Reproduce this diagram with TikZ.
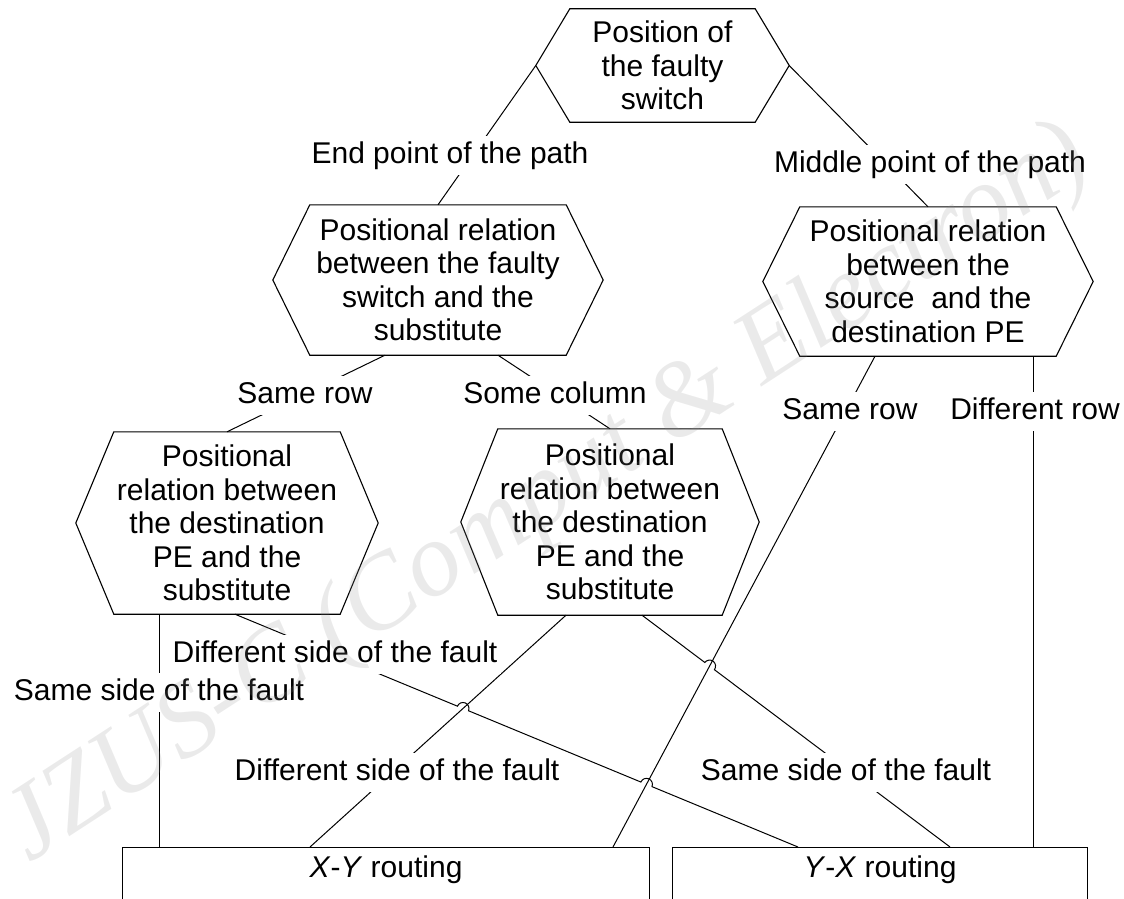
\documentclass[tikz,border=0pt]{standalone}
\usepackage{fontspec}
\setmainfont{Liberation Sans}
\newfontfamily\wmfont{Liberation Serif}
\usetikzlibrary{calc,intersections}
\newcommand\hexshape[2]{%
  \draw[hexline] (#1.west) -- ([xshift=#2]#1.north west) -- ([xshift=-#2]#1.north east)
    -- (#1.east) -- ([xshift=-#2]#1.south east) -- ([xshift=#2]#1.south west) -- cycle;}
\begin{document}
\begin{tikzpicture}[x=1pt,y=-1pt,
  txt/.style={font=\fontsize{30}{33.5}\selectfont},
  hexnode/.style={txt, align=center, inner sep=0pt},
  lbl/.style={txt, fill=white, inner xsep=4pt, inner ysep=5pt, text height=22pt, text depth=7pt, anchor=base},
  conn/.style={line width=1pt},
  hexline/.style={line width=1.1pt},
  routebox/.style={txt, draw, line width=1.1pt, anchor=north west, inner ysep=0pt, text height=30pt, text depth=80pt}]
\useasboundingbox (0,0) rectangle (1124,899);

% decision hexagons
\node[hexnode, minimum width=253pt, minimum height=113pt] (h1) at (662.5,65.5) {Position of\\the faulty\\switch};
\node[hexnode, minimum width=330pt, minimum height=150pt] (h2) at (438,280) {Positional relation\\between the faulty\\switch and the\\substitute};
\node[hexnode, minimum width=330pt, minimum height=149pt] (h3) at (928,281.5) {Positional relation\\between the\\source~ and the\\destination PE};
\node[hexnode, minimum width=302pt, minimum height=182pt] (h4) at (227,523) {Positional\\relation between\\the destination\\PE and the\\substitute};
\node[hexnode, minimum width=298pt, minimum height=186pt] (h5) at (610,522) {Positional\\relation between\\the destination\\PE and the\\substitute};
\hexshape{h1}{34pt}
\hexshape{h2}{37pt}
\hexshape{h3}{37pt}
\hexshape{h4}{38pt}
\hexshape{h5}{37pt}

% result boxes (open at the bottom edge of the picture)
\node[routebox, minimum width=527pt] (xy) at (122,847) {\textit{X}-\textit{Y} routing};
\node[routebox, minimum width=415pt] (yx) at (672,847) {\textit{Y}-\textit{X} routing};

% connector end points on the shapes
\coordinate (h2b1) at ([xshift=-53pt]h2.south);
\coordinate (h2b2) at ([xshift=60pt]h2.south);
\coordinate (h3b1) at ([xshift=-53pt]h3.south);
\coordinate (h3b2) at ([xshift=105pt]h3.south);
\coordinate (h4b1) at ([xshift=-68pt]h4.south);
\coordinate (h4b2) at ([xshift=8pt]h4.south);
\coordinate (h5b1) at ([xshift=-44pt]h5.south);
\coordinate (h5b2) at ([xshift=32pt]h5.south);
\coordinate (xy1) at (h4b1 |- xy.north);
\coordinate (xy2) at ([xshift=188pt]xy.north west);
\coordinate (xy3) at ([xshift=491pt]xy.north west);
\coordinate (yx1) at ([xshift=126pt]yx.north west);
\coordinate (yx2) at ([xshift=278pt]yx.north west);
\coordinate (yx3) at (h3b2 |- yx.north);

% connectors
\draw[conn] (h1.west) -- (h2.north);
\draw[conn] (h1.east) -- (h3.north);
\draw[conn] (h2b1) -- (h4.north);
\draw[conn] (h2b2) -- (h5.north);
\draw[conn] (h3b2) -- (yx3);
\draw[conn] (h4b1) -- (xy1);
\draw[conn, name path=pB] (h5b1) -- (xy2);
\draw[conn, name path=pC] (h3b1) -- (xy3);
\path[name path=pA] (h4b2) -- (yx1);
\path[name path=pD] (h5b2) -- (yx2);
\path[name intersections={of=pA and pB, by=x1}];
\path[name intersections={of=pA and pC, by=x2}];
\path[name intersections={of=pD and pC, by=x3}];
\draw[conn] let \p1=($(yx1)-(h4b2)$), \n1={atan2(\y1,\x1)} in
  (h4b2) -- ($(x1)!6pt!(h4b2)$) arc[start angle=\n1+180, end angle=\n1, radius=6pt]
  -- ($(x2)!6pt!(h4b2)$) arc[start angle=\n1+180, end angle=\n1, radius=6pt] -- (yx1);
\draw[conn] let \p1=($(yx2)-(h5b2)$), \n1={atan2(\y1,\x1)} in
  (h5b2) -- ($(x3)!6pt!(h5b2)$) arc[start angle=\n1+180, end angle=\n1, radius=6pt] -- (yx2);

% branch labels
\node[lbl] (l1) at (450,163) {End point of the path};
\node[lbl] (l2) at (930,172) {Middle point of the path};
\node[lbl] (l3) at (305,403) {Same row};
\node[lbl] (l4) at (555,403) {Some column};
\node[lbl] (l5) at (850,419) {Same row};
\node[lbl] (l6) at (1035,419) {Different row};
\node[lbl] (l7) at (159,700) {Same side of the fault};
\node[lbl] (l8) at (335,662) {Different side of the fault};
\node[lbl] (l9) at (397,780) {Different side of the fault};
\node[lbl] (l10) at (846,780) {Same side of the fault};

% watermark
\node[font=\wmfont\itshape\fontsize{106}{106}\selectfont, text=black!45, text opacity=0.18, rotate=33, anchor=base] (wm) at (562,517) {JZUS-C (Comput \& Electron)};
\end{tikzpicture}
\end{document}
